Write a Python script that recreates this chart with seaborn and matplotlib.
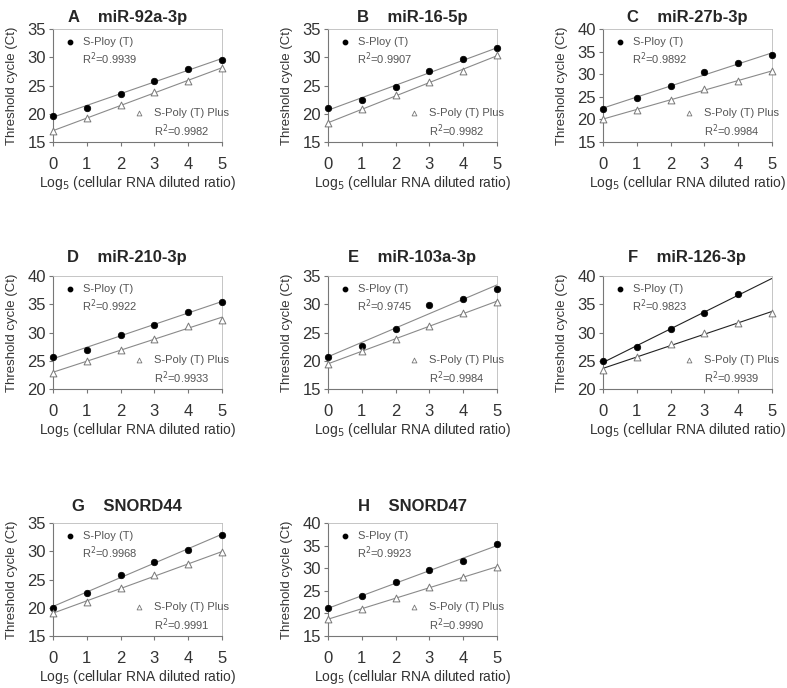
import matplotlib
matplotlib.use("Agg")
import matplotlib.pyplot as plt
import seaborn as sns
import pandas as pd
import numpy as np

# dilution steps (log5 of cellular RNA diluted ratio)
dilution = [0, 1, 2, 3, 4, 5]

letters = ["A", "B", "C", "D", "E", "F", "G", "H"]
targets = ["miR-92a-3p", "miR-16-5p", "miR-27b-3p", "miR-210-3p",
           "miR-103a-3p", "miR-126-3p", "SNORD44", "SNORD47"]

# Ct values, S-Ploy (T)
ploy_ct = [
    [19.6, 21.1, 23.5, 25.9, 27.9, 29.6],
    [21.0, 22.5, 24.7, 27.5, 29.7, 31.6],
    [22.3, 24.8, 27.5, 30.5, 32.5, 34.2],
    [25.6, 27.0, 29.5, 31.4, 33.7, 35.4],
    [20.7, 22.7, 25.6, 29.8, 31.0, 32.7],
    [24.9, 27.5, 30.6, 33.5, 36.8],
    [20.0, 22.7, 25.8, 28.1, 30.3, 32.9],
    [21.1, 23.8, 27.0, 29.6, 31.7, 35.3],
]
# Ct values, S-Poly (T) Plus
plus_ct = [
    [16.9, 19.2, 21.6, 23.9, 25.8, 28.1],
    [18.3, 20.8, 23.4, 25.6, 27.6, 30.4],
    [20.1, 22.2, 24.2, 26.7, 28.6, 30.7],
    [22.8, 24.9, 27.0, 28.9, 31.2, 32.3],
    [19.4, 21.7, 23.9, 26.2, 28.5, 30.4],
    [23.4, 25.7, 27.9, 30.0, 31.7, 33.5],
    [19.0, 21.1, 23.5, 25.8, 27.8, 29.8],
    [18.7, 21.0, 23.4, 25.8, 28.0, 30.3],
]
r2_ploy = ["0.9939", "0.9907", "0.9892", "0.9922", "0.9745", "0.9823", "0.9968", "0.9923"]
r2_plus = ["0.9982", "0.9982", "0.9984", "0.9933", "0.9984", "0.9939", "0.9991", "0.9990"]
y_low = [15, 15, 15, 20, 15, 20, 15, 15]
y_high = [35, 35, 40, 40, 35, 40, 35, 40]

sns.set_style("white")
plt.rcParams["font.family"] = ["Liberation Sans", "DejaVu Sans"]

fig = plt.figure(figsize=(7.87, 6.88), dpi=100)

col_left = [0.0673, 0.4168, 0.7662]
row_bottom = [0.7936, 0.4346, 0.0756]
row_pad = [5, 10, 9]
ax_w, ax_h = 0.2147, 0.164

for i in range(8):
    r, c = divmod(i, 3)
    ax = fig.add_axes([col_left[c], row_bottom[r], ax_w, ax_h])
    ax.set_xlim(0, 5)
    ax.set_ylim(y_low[i], y_high[i])

    line_col = "#222222" if letters[i] == "F" else "#8a8a8a"
    df_p = pd.DataFrame({"x": dilution[:len(ploy_ct[i])], "y": ploy_ct[i]})
    df_q = pd.DataFrame({"x": dilution[:len(plus_ct[i])], "y": plus_ct[i]})

    sns.regplot(data=df_p, x="x", y="y", ax=ax, scatter=False, ci=None,
                truncate=False, line_kws=dict(color=line_col, lw=0.8))
    sns.regplot(data=df_q, x="x", y="y", ax=ax, scatter=False, ci=None,
                truncate=False, line_kws=dict(color=line_col, lw=0.8))
    sns.scatterplot(data=df_p, x="x", y="y", ax=ax, color="black", s=22,
                    edgecolor="black", linewidth=0.5, zorder=5, clip_on=False)
    sns.scatterplot(data=df_q, x="x", y="y", ax=ax, marker="^", s=24,
                    facecolor="white", edgecolor="#777777", linewidth=0.7,
                    zorder=5, clip_on=False)

    ax.set_xlim(0, 5)
    ax.set_ylim(y_low[i], y_high[i])
    ax.set_xticks(dilution)
    ax.set_yticks(np.arange(y_low[i], y_high[i] + 1, 5))
    ax.tick_params(axis="both", labelsize=12, labelcolor="#333333",
                   color="#777777", length=3, width=0.8, direction="out",
                   bottom=True, left=True, pad=2)
    ax.tick_params(axis="x", pad=8)
    ax.set_xlabel(r"Log$_5$ (cellular RNA diluted ratio)", fontsize=10,
                  color="#333333", labelpad=1)
    ax.set_ylabel("Threshold cycle (Ct)", fontsize=9.5, color="#333333",
                  labelpad=7)
    ax.set_title(f"{letters[i]}    {targets[i]}", fontsize=12,
                 fontweight="bold", pad=row_pad[r],
                 x=0.44 if c == 0 else 0.5)

    for side in ["left", "bottom"]:
        ax.spines[side].set_color("#777777")
        ax.spines[side].set_linewidth(0.8)
    for side in ["top", "right"]:
        ax.spines[side].set_color("#bbbbbb")
        ax.spines[side].set_linewidth(0.6)

    # in-plot labels
    ax.scatter([0.10], [0.89], transform=ax.transAxes, s=10, color="black",
               clip_on=False)
    ax.text(0.18, 0.89, "S-Ploy (T)", transform=ax.transAxes, fontsize=8,
            color="#555555", va="center")
    ax.text(0.17, 0.74, f"R$^2$=" + r2_ploy[i], transform=ax.transAxes,
            fontsize=8, color="#555555", va="center")
    ax.scatter([0.51], [0.26], transform=ax.transAxes, s=12, marker="^",
               facecolor="white", edgecolor="#777777", linewidth=0.6,
               clip_on=False)
    ax.text(0.60, 0.26, "S-Poly (T) Plus", transform=ax.transAxes,
            fontsize=8, color="#555555", va="center")
    ax.text(0.60, 0.10, f"R$^2$=" + r2_plus[i], transform=ax.transAxes,
            fontsize=8, color="#555555", va="center")

fig.savefig("out.png", dpi=100)
